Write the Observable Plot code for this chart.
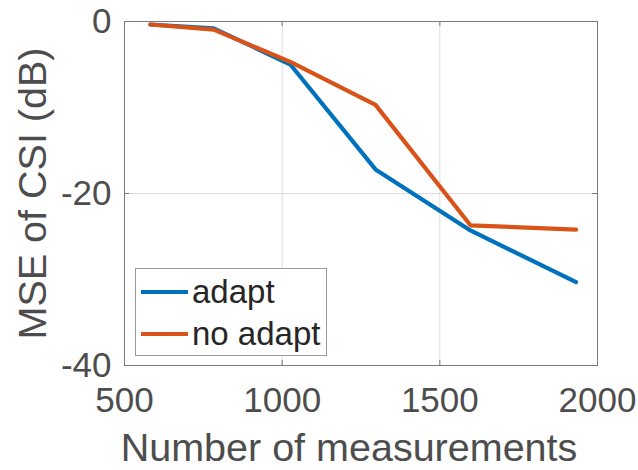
<!DOCTYPE html>
<html>
<head>
<meta charset="utf-8">
<script src="https://cdn.jsdelivr.net/npm/d3@7"></script>
<script src="https://cdn.jsdelivr.net/npm/@observablehq/plot@0.6"></script>
<style>
  html, body { margin: 0; padding: 0; background: #fff; }
  #wrap { position: relative; width: 638px; height: 470px; font-family: "Liberation Sans", Arial, sans-serif; }
  #legend { position: absolute; left: 135px; top: 268px; width: 190px; height: 86px; border: 1px solid #9a9a9a; background: #fff; }
  .item { position: absolute; left: 5px; display: flex; align-items: center; font-size: 33px; color: #262626; line-height: 1; }
  .sw { width: 47px; height: 4px; margin-right: 4px; }
</style>
</head>
<body>
<div id="wrap"></div>
<script>
const measurements = [582, 783, 1026, 1296, 1597, 1932];
const adapt = [-0.35, -0.8, -5.0, -17.2, -24.3, -30.3];
const noAdapt = [-0.35, -0.95, -4.7, -9.7, -23.7, -24.2];
const seriesNames = ["adapt", "no adapt"];
const seriesColors = ["#0072BD", "#D95319"];
const xTicks = [500, 1000, 1500, 2000];
const yTicks = [0, -20, -40];
const xLabel = "Number of measurements";
const yLabel = "MSE of CSI (dB)";

const data = [];
measurements.forEach((m, i) => data.push({x: m, y: adapt[i], s: seriesNames[0]}));
measurements.forEach((m, i) => data.push({x: m, y: noAdapt[i], s: seriesNames[1]}));

const font = "'Liberation Sans', Arial, sans-serif";
const chart = Plot.plot({
  width: 638,
  height: 470,
  marginLeft: 124,
  marginRight: 41,
  marginTop: 21,
  marginBottom: 105,
  style: {fontFamily: font, background: "#fff", overflow: "visible"},
  x: {domain: [500, 2000], ticks: xTicks, label: null},
  y: {domain: [-40, 0], ticks: yTicks, label: null},
  color: {domain: seriesNames, range: seriesColors},
  marks: [
    Plot.gridX(xTicks, {stroke: "#dcdcdc", strokeOpacity: 1}),
    Plot.gridY(yTicks, {stroke: "#dcdcdc", strokeOpacity: 1}),
    Plot.axisX(xTicks, {anchor: "bottom", tickSize: 0, tickPadding: 22, fontSize: 35, fill: "#4d4d4d", label: null, tickFormat: d => String(d)}),
    Plot.axisY(yTicks, {anchor: "left", tickSize: 0, tickPadding: 13, fontSize: 35, fill: "#4d4d4d", label: null, tickFormat: d => String(d)}),
    Plot.text([xLabel], {text: d => d, frameAnchor: "bottom", textAnchor: "middle", lineAnchor: "middle", dy: 83, dx: -12, fontSize: 39.5, fill: "#4d4d4d"}),
    Plot.text([yLabel], {text: d => d, frameAnchor: "left", textAnchor: "middle", lineAnchor: "middle", rotate: -90, dx: -91, fontSize: 39.5, fill: "#4d4d4d"}),
    Plot.tickX(xTicks, {x: d => d, stroke: "#7a7a7a", insetTop: 339, strokeOpacity: 1}),
    Plot.tickX(xTicks, {x: d => d, stroke: "#7a7a7a", insetBottom: 339, strokeOpacity: 1}),
    Plot.tickY(yTicks, {y: d => d, stroke: "#7a7a7a", insetLeft: 468, strokeOpacity: 1}),
    Plot.tickY(yTicks, {y: d => d, stroke: "#7a7a7a", insetRight: 468, strokeOpacity: 1}),
    Plot.frame({stroke: "#7a7a7a", strokeWidth: 1}),
    Plot.line(data, {x: "x", y: "y", z: "s", stroke: "s", strokeWidth: 4.2, strokeLinejoin: "miter"})
  ]
});
document.getElementById("wrap").appendChild(chart);

const legend = document.createElement("div");
legend.id = "legend";
seriesNames.forEach((name, i) => {
  const item = document.createElement("div");
  item.className = "item";
  item.style.top = (i === 0 ? 6 : 48) + "px";
  const sw = document.createElement("div");
  sw.className = "sw";
  sw.style.background = seriesColors[i];
  const t = document.createElement("span");
  t.textContent = name;
  item.appendChild(sw);
  item.appendChild(t);
  legend.appendChild(item);
});
document.getElementById("wrap").appendChild(legend);
</script>
</body>
</html>
